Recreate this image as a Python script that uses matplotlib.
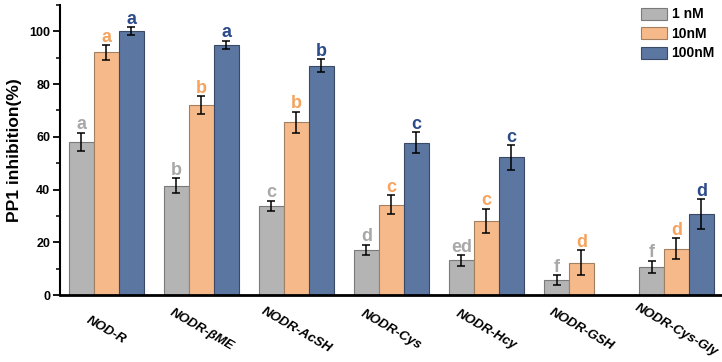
import numpy as np
import matplotlib
matplotlib.use("Agg")
import matplotlib.pyplot as plt

plt.rcParams['font.family'] = ['Liberation Sans', 'DejaVu Sans']
plt.rcParams['font.weight'] = 'bold'

# data
groups = ['NOD-R', 'NODR-βME', 'NODR-AcSH', 'NODR-Cys', 'NODR-Hcy', 'NODR-GSH', 'NODR-Cys-Gly']
series = ['1 nM', '10nM', '100nM']
v1 = [58.2, 41.5, 33.8, 17.0, 13.1, 5.6, 10.6]
e1 = [3.4, 2.8, 2.0, 2.0, 2.0, 1.9, 2.4]
v10 = [92.0, 72.0, 65.6, 34.3, 28.2, 12.2, 17.5]
e10 = [2.7, 3.3, 4.0, 3.6, 4.5, 4.8, 4.0]
v100 = [100.0, 95.0, 87.0, 57.8, 52.2, np.nan, 30.8]
e100 = [1.5, 1.5, 2.4, 4.0, 4.7, np.nan, 5.6]
lab1 = ['a', 'b', 'c', 'd', 'ed', 'f', 'f']
lab10 = ['a', 'b', 'b', 'c', 'c', 'd', 'd']
lab100 = ['a', 'a', 'b', 'c', 'c', '', 'd']

bar_colors = ['#b4b4b4', '#f6b98a', '#5b76a0']
edge_colors = ['#7a7a7a', '#a08060', '#3a4a66']
text_colors = ['#a8a8a8', '#f5a35e', '#2d4b8a']

fig = plt.figure(figsize=(7.22, 3.62), dpi=100)
ax = fig.add_axes([60/722, 67/362, 662/722, 290/362])

x = np.arange(len(groups))
w = 0.263
vals = [v1, v10, v100]
errs = [e1, e10, e100]
labs = [lab1, lab10, lab100]
for k in range(3):
    xs = x + (k - 1) * w
    ax.bar(xs, vals[k], w, color=bar_colors[k], edgecolor=edge_colors[k],
           linewidth=0.8, label=series[k], zorder=2)
    ax.errorbar(xs, vals[k], yerr=errs[k], fmt='none', ecolor='black',
                elinewidth=1.1, capsize=3, capthick=1.1, zorder=3)
    for i in range(len(groups)):
        if labs[k][i] == '':
            continue
        top = vals[k][i] + errs[k][i]
        ax.annotate(labs[k][i], (xs[i], top), xytext=(0, 2.5), textcoords='offset points',
                    ha='center', va='baseline', fontsize=13, fontweight='bold',
                    color=text_colors[k])

ax.set_xlim(-0.489, 6.479)
ax.set_ylim(0, 110)
ax.set_yticks([0, 20, 40, 60, 80, 100])
ax.set_yticks([10, 30, 50, 70, 90, 110], minor=True)
ax.tick_params(axis='y', which='major', length=5, width=1.3, labelsize=9, pad=2)
ax.tick_params(axis='y', which='minor', length=3, width=1.1)
ax.set_xticks([])
for i, g in enumerate(groups):
    ax.text(i, -0.12, g, transform=ax.get_xaxis_transform(), rotation=-30,
            rotation_mode='anchor', ha='center', va='center',
            fontsize=9.5, fontweight='bold', fontstyle='italic')

ax.set_ylabel('PP1 inhibition(%)', fontsize=12.5, fontweight='bold', labelpad=5)
ax.spines['top'].set_visible(False)
ax.spines['right'].set_visible(False)
ax.spines['left'].set_linewidth(1.5)
ax.spines['bottom'].set_linewidth(2)

ax.legend(loc='upper right', bbox_to_anchor=(1.008, 1.035), frameon=False,
          prop={'size': 10, 'weight': 'bold'}, handlelength=1.9, handleheight=0.95,
          handletextpad=0.3, labelspacing=0.4)

plt.savefig('out.png', dpi=100)
